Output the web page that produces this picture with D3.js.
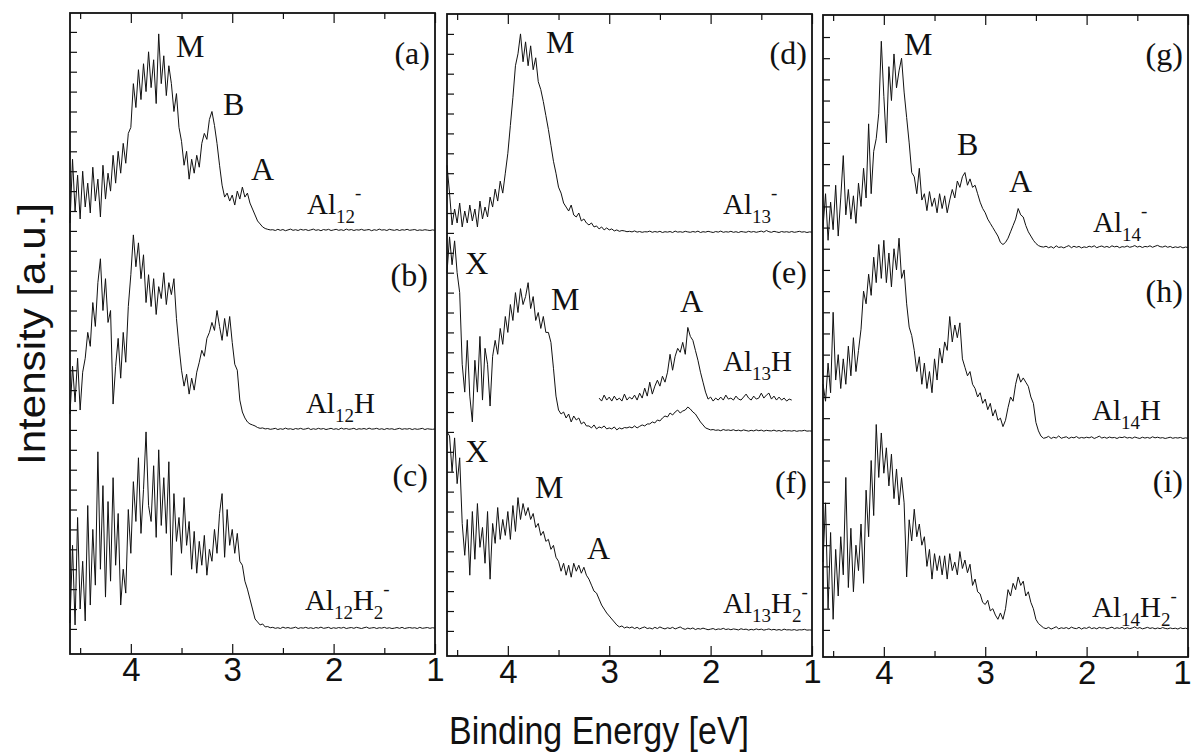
<!DOCTYPE html>
<html>
<head>
<meta charset="utf-8">
<script src="https://cdn.jsdelivr.net/npm/d3@7"></script>
<style>
  body { margin: 0; background: #fff; }
</style>
</head>
<body>
<svg id="chart" width="1196" height="753"></svg>
<script>
// every spectrum is sampled from 4.6 eV down to 1.0 eV, 0.025 eV apart
// values are intensities in tick units above the spectrum's own baseline
const E_START = 4.6
const E_STEP = 0.025

const al12 = [
  0.4, 3.6, 1.0, 2.8, 0.6, 3.0, 1.2, 2.4,
  0.9, 3.2, 1.5, 2.6, 0.7, 3.3, 1.6, 2.9,
  2.0, 3.8, 2.4, 4.0, 2.9, 4.4, 3.4, 4.9,
  5.2, 7.4, 6.2, 8.1, 6.6, 8.4, 7.0, 9.0,
  7.2, 8.6, 6.4, 9.9, 7.4, 8.8, 6.8, 8.3,
  7.4, 6.0, 6.9, 5.2, 4.5, 3.3, 4.0, 2.6,
  3.6, 2.9, 3.8, 3.2, 4.4, 4.9, 4.6, 5.6,
  6.0, 5.3, 4.4, 3.3, 2.3, 1.7, 1.9, 1.5,
  1.8, 1.3, 2.0, 1.6, 2.2, 1.7, 1.9, 1.4,
  1.1, 0.8, 0.5, 0.35, 0.2, 0.12, 0.08, 0.05,
  0.06, 0.02, 0.08, 0.03, 0.07, 0.01, 0.05, 0.09,
  0.03, 0.06, 0.02, 0.08, 0.04, 0.07, 0.02, 0.05,
  0.09, 0.03, 0.06, 0.01, 0.07, 0.04, 0.08, 0.02,
  0.05, 0.08, 0.03, 0.06, 0.02, 0.09, 0.04, 0.07,
  0.02, 0.06, 0.04, 0.08, 0.03, 0.05, 0.07, 0.01,
  0.06, 0.03, 0.09, 0.04, 0.06, 0.02, 0.08, 0.05,
  0.03, 0.07, 0.02, 0.06, 0.04, 0.08, 0.03, 0.05,
  0.07, 0.02, 0.05, 0.03, 0.06, 0.04, 0.02, 0.05,
  0.03
]

const al12H = [
  0.8, 3.2, 1.4, 3.6, 1.0, 2.9, 3.6, 4.9,
  4.2, 6.4, 5.2, 7.4, 8.6, 6.0, 7.6, 5.4,
  6.0, 1.3, 3.2, 4.6, 2.6, 4.9, 3.4, 6.2,
  7.8, 9.8, 8.2, 9.4, 7.6, 8.8, 6.4, 7.8,
  6.2, 7.6, 5.8, 7.2, 6.6, 7.9, 6.3, 7.4,
  6.8, 7.6, 5.6, 4.2, 3.0, 2.2, 2.8, 1.8,
  2.6, 2.0, 2.9, 3.4, 4.0, 3.7, 4.6, 4.9,
  5.4, 5.0, 6.0, 5.2, 4.5, 5.6, 4.7, 5.7,
  4.4, 3.3, 3.0, 1.5, 0.9, 0.6, 0.4, 0.3,
  0.25, 0.2, 0.12, 0.08, 0.1, 0.05, 0.07, 0.03,
  0.05, 0.08, 0.02, 0.06, 0.03, 0.09, 0.04, 0.06,
  0.02, 0.07, 0.04, 0.08, 0.03, 0.05, 0.09, 0.02,
  0.06, 0.03, 0.08, 0.04, 0.07, 0.02, 0.05, 0.08,
  0.03, 0.06, 0.02, 0.09, 0.04, 0.07, 0.03, 0.05,
  0.08, 0.02, 0.06, 0.04, 0.07, 0.03, 0.09, 0.04,
  0.05, 0.08, 0.03, 0.06, 0.02, 0.07, 0.04, 0.06,
  0.02, 0.05, 0.08, 0.03, 0.06, 0.04, 0.07, 0.02,
  0.06, 0.03, 0.05, 0.08, 0.02, 0.06, 0.04, 0.03,
  0.05
]

const al12H2 = [
  0.3, 4.2, 0.2, 5.6, 1.0, 3.4, 0.4, 6.2,
  1.2, 5.0, 2.2, 8.9, 3.0, 7.2, 1.6, 6.4,
  2.4, 7.6, 3.2, 5.8, 1.2, 3.0, 1.8, 6.0,
  3.8, 7.4, 5.4, 8.6, 4.8, 7.0, 9.9, 6.2,
  5.4, 8.2, 4.6, 9.0, 5.2, 7.6, 4.8, 8.4,
  2.7, 6.8, 4.4, 5.6, 3.8, 6.6, 4.2, 5.4,
  3.0, 4.9, 2.8, 4.4, 3.2, 4.7, 2.7, 4.0,
  3.4, 5.0, 3.8, 5.8, 6.8, 3.6, 6.0, 4.2,
  5.0, 3.8, 4.8, 3.4, 3.2, 2.4, 2.0, 1.5,
  1.0, 0.5, 0.35, 0.2, 0.25, 0.1, 0.12, 0.06,
  0.08, 0.03, 0.06, 0.02, 0.09, 0.04, 0.07, 0.03,
  0.05, 0.09, 0.02, 0.06, 0.04, 0.08, 0.03, 0.06,
  0.02, 0.07, 0.04, 0.09, 0.03, 0.05, 0.08, 0.02,
  0.06, 0.03, 0.07, 0.04, 0.08, 0.02, 0.05, 0.07,
  0.03, 0.08, 0.05, 0.02, 0.06, 0.09, 0.03, 0.05,
  0.07, 0.02, 0.06, 0.04, 0.08, 0.03, 0.06, 0.02,
  0.04, 0.07, 0.03, 0.08, 0.02, 0.05, 0.07, 0.04,
  0.06, 0.02, 0.08, 0.03, 0.05, 0.07, 0.03, 0.06,
  0.04
]

const al13 = [
  3.4, 2.0, 0.4, 1.2, 0.5, 1.5, 0.3, 1.1,
  0.5, 1.4, 0.6, 1.2, 0.3, 1.6, 0.7, 1.3,
  0.8, 1.8, 1.3, 2.2, 1.6, 2.6, 2.0, 3.0,
  4.0, 5.4, 6.8, 8.4, 9.0, 10.0, 8.6, 9.6,
  8.4, 9.4, 8.2, 8.8, 7.6, 7.2, 6.6, 5.9,
  5.2, 4.4, 3.6, 3.0, 2.3, 2.0, 1.5, 1.3,
  1.1, 1.4, 0.9, 0.8, 1.0, 0.6, 0.7, 0.5,
  0.4, 0.5, 0.3, 0.35, 0.2, 0.3, 0.15, 0.25,
  0.15, 0.2, 0.1, 0.15, 0.08, 0.12, 0.1, 0.06,
  0.08, 0.05, 0.1, 0.04, 0.07, 0.03, 0.06, 0.05,
  0.09, 0.03, 0.07, 0.04, 0.08, 0.02, 0.06, 0.04,
  0.07, 0.02, 0.09, 0.04, 0.06, 0.03, 0.08, 0.05,
  0.03, 0.07, 0.04, 0.09, 0.02, 0.06, 0.04, 0.08,
  0.05, 0.02, 0.07, 0.04, 0.09, 0.03, 0.06, 0.04,
  0.08, 0.03, 0.06, 0.02, 0.07, 0.05, 0.03, 0.08,
  0.04, 0.07, 0.03, 0.06, 0.09, 0.04, 0.12, 0.06,
  0.03, 0.08, 0.05, 0.02, 0.07, 0.04, 0.06, 0.03,
  0.07, 0.03, 0.05, 0.08, 0.04, 0.06, 0.02, 0.05,
  0.04
]

const al13H = [
  8.0, 9.8, 8.4, 9.6, 8.0, 7.0, 3.4, 2.0,
  4.6, 1.8, 0.5, 3.6, 2.0, 4.8, 1.6, 4.2,
  3.4, 1.3, 3.8, 4.6, 3.9, 5.2, 4.4, 5.8,
  5.0, 6.4, 5.6, 7.0, 6.0, 7.2, 6.4, 6.8,
  7.5, 6.2, 6.8, 5.6, 6.0, 5.2, 5.8, 5.0,
  5.0, 4.5, 3.2, 1.8, 1.1, 0.9, 1.0, 0.7,
  0.9, 0.5, 0.8, 0.6, 0.7, 0.4, 0.5, 0.3,
  0.3, 0.2, 0.35, 0.15, 0.25, 0.2, 0.3, 0.15,
  0.2, 0.15, 0.25, 0.1, 0.2, 0.15, 0.22, 0.2,
  0.25, 0.2, 0.3, 0.2, 0.28, 0.35, 0.3, 0.4,
  0.4, 0.5, 0.45, 0.6, 0.55, 0.7, 0.8, 0.75,
  0.95, 0.85, 1.0, 1.1, 0.95, 1.05, 1.1, 1.25,
  1.15, 1.0, 0.9, 0.7, 0.5, 0.35, 0.2, 0.15,
  0.1, 0.12, 0.08, 0.1, 0.06, 0.12, 0.08, 0.1,
  0.07, 0.11, 0.06, 0.09, 0.05, 0.1, 0.07, 0.04,
  0.08, 0.05, 0.1, 0.06, 0.09, 0.04, 0.08, 0.06,
  0.05, 0.09, 0.04, 0.07, 0.03, 0.08, 0.05, 0.06,
  0.04, 0.07, 0.03, 0.06, 0.05, 0.08, 0.04, 0.05,
  0.04
]

// magnified copy of the Al13H- spectrum, drawn from 3.1 eV to 1.2 eV
const AL13H_ZOOM_START = 3.1
const al13Hzoom = [
  1.7, 1.55, 1.85, 1.6, 1.75, 1.55, 1.8, 1.6,
  1.7, 1.55, 1.9, 1.6, 1.75, 1.65, 1.85, 1.6,
  1.95, 1.7, 2.2, 1.8, 2.5, 1.9, 2.3, 2.6,
  2.3, 2.8, 2.5, 3.0, 3.9, 3.1, 3.8, 4.2,
  4.0, 4.5, 3.9, 5.25, 4.8, 4.6, 4.1, 3.6,
  3.0, 2.5, 2.0, 1.65, 1.75, 1.55, 1.7, 1.6,
  1.75, 1.6, 1.85, 1.65, 1.7, 1.6, 1.8, 1.65,
  1.6, 1.75, 1.9, 1.7, 1.6, 1.8, 1.65, 1.7,
  1.95, 1.7, 1.85, 1.95, 1.65, 1.8, 1.6, 1.75,
  1.6, 1.7, 1.55, 1.65, 1.6
]

const al13H2 = [
  10.0, 9.8, 8.0, 9.7, 7.4, 8.7, 5.4, 3.8,
  5.6, 2.8, 6.0, 3.6, 6.4, 4.2, 5.2, 3.4,
  6.0, 2.6, 5.4, 4.4, 6.2, 4.6, 5.6, 4.8,
  6.0, 4.6, 6.3, 5.0, 6.7, 5.6, 6.4, 5.8,
  6.2, 5.6, 5.9, 5.2, 5.4, 4.8, 5.0, 4.5,
  4.6, 4.1, 4.3, 3.7, 3.5, 3.0, 3.4, 2.8,
  3.3, 2.7, 3.4, 3.0, 3.3, 2.9, 3.2, 2.8,
  2.6, 2.3, 2.0, 1.9, 1.6, 1.3, 1.1, 0.9,
  0.75, 0.6, 0.45, 0.3, 0.2, 0.25, 0.15, 0.2,
  0.15, 0.2, 0.12, 0.18, 0.1, 0.16, 0.2, 0.12,
  0.15, 0.1, 0.18, 0.12, 0.2, 0.14, 0.1, 0.16,
  0.12, 0.18, 0.1, 0.15, 0.2, 0.12, 0.08, 0.14,
  0.1, 0.15, 0.07, 0.12, 0.09, 0.14, 0.1, 0.06,
  0.09, 0.12, 0.06, 0.1, 0.08, 0.13, 0.07, 0.1,
  0.06, 0.1, 0.08, 0.05, 0.11, 0.07, 0.09, 0.04,
  0.08, 0.05, 0.1, 0.06, 0.09, 0.04, 0.07, 0.1,
  0.05, 0.08, 0.04, 0.07, 0.03, 0.09, 0.05, 0.06,
  0.04, 0.07, 0.03, 0.06, 0.05, 0.08, 0.04, 0.05,
  0.04
]

const al14 = [
  1.0, 2.6, 0.4, 2.2, 0.9, 3.0, 0.6, 2.4,
  4.4, 1.6, 2.8, 1.4, 2.5, 1.2, 3.1, 2.0,
  3.8, 2.4, 5.9, 2.6, 4.6, 5.2, 6.4, 9.8,
  7.2, 5.0, 8.6, 7.0, 9.2, 7.6, 8.4, 9.0,
  7.4, 6.2, 5.0, 3.6, 3.4, 2.6, 3.8, 2.3,
  2.6, 1.8, 2.7, 2.0, 2.4, 1.7, 2.6, 1.9,
  2.5, 1.7, 2.3, 2.8, 2.4, 3.2, 2.9, 3.4,
  3.6, 3.0, 3.3, 2.9, 3.0, 2.6, 2.2, 1.9,
  1.7, 1.4, 1.2, 1.0, 0.8, 0.6, 0.3, 0.2,
  0.3, 0.5, 0.8, 1.1, 1.4, 1.9, 1.6, 1.5,
  1.1, 0.8, 0.6, 0.4, 0.25, 0.15, 0.1, 0.08,
  0.12, 0.05, 0.1, 0.03, 0.14, 0.06, 0.09, 0.04,
  0.1, 0.15, 0.05, 0.12, 0.07, 0.11, 0.04, 0.09,
  0.06, 0.12, 0.08, 0.14, 0.05, 0.1, 0.13, 0.07,
  0.11, 0.06, 0.14, 0.09, 0.12, 0.05, 0.1, 0.08,
  0.13, 0.07, 0.1, 0.15, 0.08, 0.12, 0.06, 0.11,
  0.09, 0.14, 0.07, 0.12, 0.16, 0.1, 0.08, 0.13,
  0.07, 0.11, 0.05, 0.09, 0.06, 0.1, 0.04, 0.08,
  0.06
]

const al14H = [
  2.6, 1.8, 3.6, 2.2, 6.0, 2.8, 4.0, 2.4,
  3.8, 2.6, 4.4, 3.0, 4.8, 3.2, 4.2, 5.2,
  7.0, 6.4, 7.8, 6.8, 8.6, 7.4, 9.2, 7.6,
  9.4, 7.4, 8.8, 7.2, 9.0, 8.0, 9.5, 7.6,
  8.0, 6.4, 5.3, 4.9, 4.2, 3.2, 3.9, 2.6,
  3.6, 2.4, 3.2, 2.2, 3.8, 2.8, 4.3, 3.6,
  4.6, 4.2, 5.8, 4.6, 5.4, 4.8, 5.5, 3.8,
  3.4, 3.0, 3.2, 2.6, 2.4, 2.0, 2.2, 1.7,
  1.9, 1.4, 1.7, 1.1, 1.4, 0.9, 1.0, 0.6,
  0.9, 1.5, 2.0, 1.8, 2.6, 3.1, 2.7, 2.9,
  2.7, 2.5, 2.0, 1.7, 0.8, 0.4, 0.15, 0.05,
  0.08, 0.14, 0.04, 0.1, 0.06, 0.16, 0.05, 0.09,
  0.12, 0.04, 0.1, 0.07, 0.13, 0.05, 0.09, 0.06,
  0.1, 0.07, 0.12, 0.04, 0.09, 0.15, 0.06, 0.1,
  0.05, 0.11, 0.07, 0.09, 0.04, 0.1, 0.08, 0.12,
  0.06, 0.09, 0.05, 0.11, 0.07, 0.04, 0.1, 0.06,
  0.09, 0.05, 0.12, 0.07, 0.1, 0.06, 0.08, 0.04,
  0.07, 0.1, 0.05, 0.08, 0.06, 0.09, 0.04, 0.07,
  0.05
]

const al14H2 = [
  3.2, 6.0, 1.0, 4.6, 0.5, 3.8, 1.6, 4.4,
  2.6, 7.2, 2.0, 4.8, 1.8, 4.0, 2.8, 5.0,
  2.2, 6.6, 4.4, 8.0, 5.4, 9.7, 7.2, 9.3,
  7.4, 8.6, 6.8, 8.3, 6.2, 7.6, 5.9, 7.2,
  6.0, 2.5, 5.2, 4.2, 5.7, 4.4, 5.0, 4.0,
  4.4, 3.0, 3.8, 2.4, 3.6, 2.8, 3.5, 2.6,
  3.5, 2.4, 3.6, 2.8, 3.2, 2.6, 3.7, 2.9,
  3.3, 2.7, 3.1, 2.1, 2.4, 1.8, 1.7, 1.3,
  1.2, 1.4, 0.9, 1.0, 0.7, 0.5, 0.8, 0.5,
  1.0, 1.9, 1.6, 2.2, 1.9, 2.5, 2.1, 2.3,
  1.6, 1.8, 1.3, 1.0, 0.5, 0.3, 0.2, 0.1,
  0.06, 0.12, 0.04, 0.09, 0.15, 0.05, 0.1, 0.07,
  0.11, 0.05, 0.13, 0.08, 0.06, 0.12, 0.04, 0.1,
  0.07, 0.14, 0.06, 0.1, 0.05, 0.12, 0.08, 0.11,
  0.05, 0.09, 0.13, 0.06, 0.1, 0.07, 0.12, 0.05,
  0.1, 0.06, 0.09, 0.14, 0.07, 0.11, 0.05, 0.08,
  0.12, 0.07, 0.1, 0.05, 0.09, 0.06, 0.11, 0.07,
  0.05, 0.09, 0.06, 0.08, 0.04, 0.1, 0.06, 0.08,
  0.05
]

const majorTicks = [4, 3, 2, 1]
const minorTicks = [4.5, 3.5, 2.5, 1.5]

const sans = "'Liberation Sans', Arial, Helvetica, sans-serif"
const serif = "'Liberation Serif', 'Times New Roman', serif"

const svg = d3.select('#chart')

const panels = [
    {
        left: 70, top: 13, bottom: 654, ymin: -1.26, ymax: 30.95, yticks: d3.range(0, 31),
        spectra: [
            { data: al12, offset: 20 },
            { data: al12H, offset: 10 },
            { data: al12H2, offset: 0 }
        ],
        labels: [
            { E: 3.555, u: 28.74, parts: [['M']] },
            { E: 3.091, u: 25.83, parts: [['B']] },
            { E: 2.815, u: 22.56, parts: [['A']] },
            { E: 1.05, u: 28.4, parts: [['(a)']], end: true },
            { E: 2.263, u: 20.85, parts: [['Al'], ['12', 'sub'], ['-', 'sup']], small: true },
            { E: 1.07, u: 17.24, parts: [['(b)']], end: true },
            { E: 2.273, u: 10.85, parts: [['Al'], ['12', 'sub'], ['H']], small: true },
            { E: 1.07, u: 7.19, parts: [['(c)']], end: true },
            { E: 2.283, u: 0.95, parts: [['Al'], ['12', 'sub'], ['H'], ['2', 'sub'], ['-', 'sup']], small: true }
        ]
    },
    {
        left: 447, top: 14, bottom: 656, ymin: -1.26, ymax: 31.0, yticks: d3.range(0, 31),
        spectra: [
            { data: al13, offset: 20 },
            { data: al13H, offset: 10 },
            { data: al13Hzoom, offset: 10, start: AL13H_ZOOM_START },
            { data: al13H2, offset: 0 }
        ],
        labels: [
            { E: 3.624, u: 29.05, parts: [['M']] },
            { E: 1.05, u: 28.5, parts: [['(d)']], end: true },
            { E: 1.878, u: 20.95, parts: [['Al'], ['13', 'sub'], ['-', 'sup']], small: true },
            { E: 4.42, u: 17.94, parts: [['X']] },
            { E: 3.574, u: 16.13, parts: [['M']] },
            { E: 2.302, u: 16.03, parts: [['A']] },
            { E: 1.05, u: 17.49, parts: [['(e)']], end: true },
            { E: 1.878, u: 13.07, parts: [['Al'], ['13', 'sub'], ['H']], small: true },
            { E: 4.42, u: 8.49, parts: [['X']] },
            { E: 3.732, u: 6.68, parts: [['M']] },
            { E: 3.219, u: 3.62, parts: [['A']] },
            { E: 1.05, u: 6.93, parts: [['(f)']], end: true },
            { E: 1.878, u: 0.9, parts: [['Al'], ['13', 'sub'], ['H'], ['2', 'sub'], ['-', 'sup']], small: true }
        ]
    },
    {
        left: 823, top: 15, bottom: 657, ymin: -1.28, ymax: 29.04, yticks: d3.range(0, 29),
        spectra: [
            { data: al14, offset: 18 },
            { data: al14H, offset: 9 },
            { data: al14H2, offset: 0 }
        ],
        labels: [
            { E: 3.801, u: 27.15, parts: [['M']] },
            { E: 1.05, u: 26.68, parts: [['(g)']], end: true },
            { E: 3.278, u: 22.43, parts: [['B']] },
            { E: 2.766, u: 20.68, parts: [['A']] },
            { E: 1.937, u: 18.79, parts: [['Al'], ['14', 'sub'], ['-', 'sup']], small: true },
            { E: 1.05, u: 15.49, parts: [['(h)']], end: true },
            { E: 1.947, u: 9.92, parts: [['Al'], ['14', 'sub'], ['H']], small: true },
            { E: 1.05, u: 6.52, parts: [['(i)']], end: true },
            { E: 1.947, u: 0.61, parts: [['Al'], ['14', 'sub'], ['H'], ['2', 'sub'], ['-', 'sup']], small: true }
        ]
    }
]

const PANEL_W = 365

panels.forEach((p, k) => {

    const x = d3.scaleLinear()
        .domain([4.6, 1])
        .range([p.left, p.left + PANEL_W])

    const y = d3.scaleLinear()
        .domain([p.ymin, p.ymax])
        .range([p.bottom, p.top])

    const g = svg.append('g')

    // bottom axis, labelled major ticks and short minor ticks, all pointing inside
    g.append('g')
        .attr('class', 'x-axis')
        .attr('transform', `translate(0,${p.bottom})`)
        .call(d3.axisBottom(x).tickValues(majorTicks).tickSize(-10).tickPadding(4).tickFormat(d3.format('d')))
    g.append('g')
        .attr('transform', `translate(0,${p.bottom})`)
        .call(d3.axisBottom(x).tickValues(minorTicks).tickSize(-6).tickFormat(''))

    // same ticks mirrored on top
    g.append('g')
        .attr('transform', `translate(0,${p.top})`)
        .call(d3.axisTop(x).tickValues(majorTicks).tickSize(-10).tickFormat(''))
    g.append('g')
        .attr('transform', `translate(0,${p.top})`)
        .call(d3.axisTop(x).tickValues(minorTicks).tickSize(-6).tickFormat(''))

    // left ticks, one per unit, no labels
    g.append('g')
        .attr('transform', `translate(${p.left},0)`)
        .call(d3.axisLeft(y).tickValues(p.yticks).tickSize(-7).tickFormat(''))

    g.selectAll('.domain').remove()
    g.selectAll('.tick line').attr('stroke', '#111').attr('stroke-width', 1.2)
    g.selectAll('.x-axis text')
        .attr('font-family', sans)
        .attr('font-size', 33)
        .attr('fill', '#111')

    // the rightmost "1" sits at the window edge, pull it in a little
    if (k === panels.length - 1) {
        g.selectAll('.x-axis .tick text')
            .filter(d => d === 1)
            .attr('dx', -6)
    }

    // frame
    g.append('rect')
        .attr('x', p.left)
        .attr('y', p.top)
        .attr('width', PANEL_W)
        .attr('height', p.bottom - p.top)
        .attr('fill', 'none')
        .attr('stroke', '#111')
        .attr('stroke-width', 1.8)

    // spectra
    p.spectra.forEach(s => {
        const start = s.start !== undefined ? s.start : E_START
        const line = d3.line()
            .x((d, i) => x(start - i * E_STEP))
            .y(d => y(s.offset + d))
        g.append('path')
            .datum(s.data)
            .attr('d', line)
            .attr('fill', 'none')
            .attr('stroke', '#111')
            .attr('stroke-width', 1)
    })

    // peak letters, panel letters and cluster names
    p.labels.forEach(l => {
        const size = l.small ? 29 : 32
        const t = g.append('text')
            .attr('x', x(l.E))
            .attr('y', y(l.u))
            .attr('font-family', serif)
            .attr('font-size', size)
            .attr('fill', '#111')
            .attr('text-anchor', l.end ? 'end' : 'start')
        let shift = 0
        l.parts.forEach(([str, kind]) => {
            const target = kind === 'sub' ? 9 : kind === 'sup' ? -15 : 0
            t.append('tspan')
                .attr('dy', target - shift)
                .attr('font-size', kind ? 19 : null)
                .text(str)
            shift = target
        })
    })
})

// axis titles
svg.append('text')
    .attr('x', 599)
    .attr('y', 744)
    .attr('text-anchor', 'middle')
    .attr('font-family', sans)
    .attr('font-size', 38)
    .attr('textLength', 300)
    .attr('lengthAdjust', 'spacingAndGlyphs')
    .attr('fill', '#111')
    .text('Binding Energy [eV]')

svg.append('text')
    .attr('transform', 'translate(45,334) rotate(-90)')
    .attr('text-anchor', 'middle')
    .attr('font-family', sans)
    .attr('font-size', 38)
    .attr('textLength', 262)
    .attr('lengthAdjust', 'spacingAndGlyphs')
    .attr('fill', '#111')
    .text('Intensity [a.u.]')
</script>
</body>
</html>
